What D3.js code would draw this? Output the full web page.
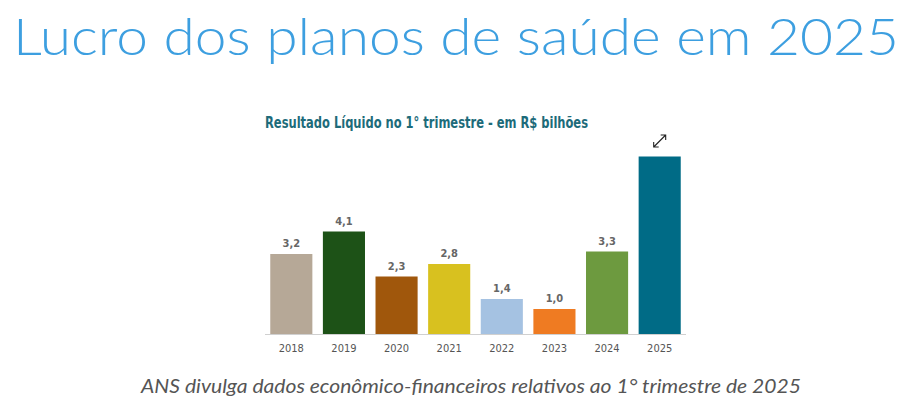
<!DOCTYPE html>
<html lang="pt">
<head>
<meta charset="UTF-8">
<title>Lucro dos planos de saúde em 2025</title>
<script src="https://d3js.org/d3.v7.min.js"></script>
<style>
    body { margin: 0; background: #fff; }
    svg { display: block; }
    .narrow { font-family: "Liberation Sans Narrow", "Arial Narrow", "DejaVu Sans Condensed", sans-serif; }
</style>
</head>
<body>
<svg width="912" height="413"></svg>
<script>
    // dados
    const years = ["2018", "2019", "2020", "2021", "2022", "2023", "2024", "2025"];
    const values = [3.2, 4.1, 2.3, 2.8, 1.4, 1.0, 3.3, 7.1];
    const labels = ["3,2", "4,1", "2,3", "2,8", "1,4", "1,0", "3,3", ""];
    const colors = ["#b6a897", "#1d5217", "#a0570c", "#d8c11f", "#a5c2e2", "#ef7b22", "#6d9a3f", "#006b86"];

    const svg = d3.select("svg");

    // título principal
    svg.append("text")
        .attr("x", 13).attr("y", 55)
        .attr("textLength", 886).attr("lengthAdjust", "spacingAndGlyphs")
        .style("font-family", "Lato, 'Open Sans', sans-serif")
        .style("font-weight", 300)
        .style("font-size", "52px")
        .style("fill", "#3d9fe0")
        .text("Lucro dos planos de saúde em 2025");

    // título do gráfico
    svg.append("text")
        .attr("class", "narrow")
        .attr("x", 265).attr("y", 128)
        .attr("textLength", 323).attr("lengthAdjust", "spacingAndGlyphs")
        .style("font-weight", "bold")
        .style("font-size", "16px")
        .style("fill", "#1d6b7a")
        .text("Resultado Líquido no 1° trimestre - em R$ bilhões");

    const x = d3.scaleBand().domain(years).range([265, 686]).paddingInner(0.2).paddingOuter(0.1);
    const y = d3.scaleLinear().domain([0, 8]).range([334, 134]);

    const g = svg.append("g");

    g.selectAll("rect")
        .data(years)
        .enter()
        .append("rect")
        .attr("x", d => x(d))
        .attr("y", (d, i) => y(values[i]))
        .attr("width", x.bandwidth())
        .attr("height", (d, i) => y(0) - y(values[i]))
        .attr("fill", (d, i) => colors[i]);

    // rótulos de valor
    g.selectAll(".val")
        .data(years)
        .enter()
        .append("text")
        .attr("class", "narrow val")
        .attr("x", d => x(d) + x.bandwidth() / 2)
        .attr("y", (d, i) => y(values[i]) - 7)
        .attr("text-anchor", "middle")
        .style("font-weight", "bold")
        .style("font-size", "11px")
        .style("fill", "#666")
        .text((d, i) => labels[i]);

    // eixo x
    const axis = svg.append("g")
        .attr("transform", `translate(0,${y(0)})`)
        .call(d3.axisBottom(x).tickSize(0).tickPadding(10));
    axis.select(".domain").attr("stroke", "#d0d0d0").attr("d", "M265,0.5H686");
    axis.selectAll("text")
        .attr("class", "narrow")
        .style("font-size", "11px")
        .style("fill", "#555");

    // ícone de expandir
    const ic = svg.append("g")
        .attr("transform", `translate(${x("2025") + x.bandwidth() / 2},141)`)
        .attr("stroke", "#222").attr("stroke-width", 1.1).attr("fill", "none");
    ic.append("path").attr("d", "M-6,6 L6,-6 M1,-6 H6 V-1 M-6,1 V6 H-1");

    // subtítulo
    svg.append("text")
        .attr("x", 471).attr("y", 393)
        .attr("text-anchor", "middle")
        .attr("textLength", 660).attr("lengthAdjust", "spacingAndGlyphs")
        .style("font-family", "Lato, 'Open Sans', sans-serif")
        .style("font-style", "italic")
        .style("font-size", "19px")
        .style("fill", "#555")
        .text("ANS divulga dados econômico-financeiros relativos ao 1° trimestre de 2025");
</script>
</body>
</html>
